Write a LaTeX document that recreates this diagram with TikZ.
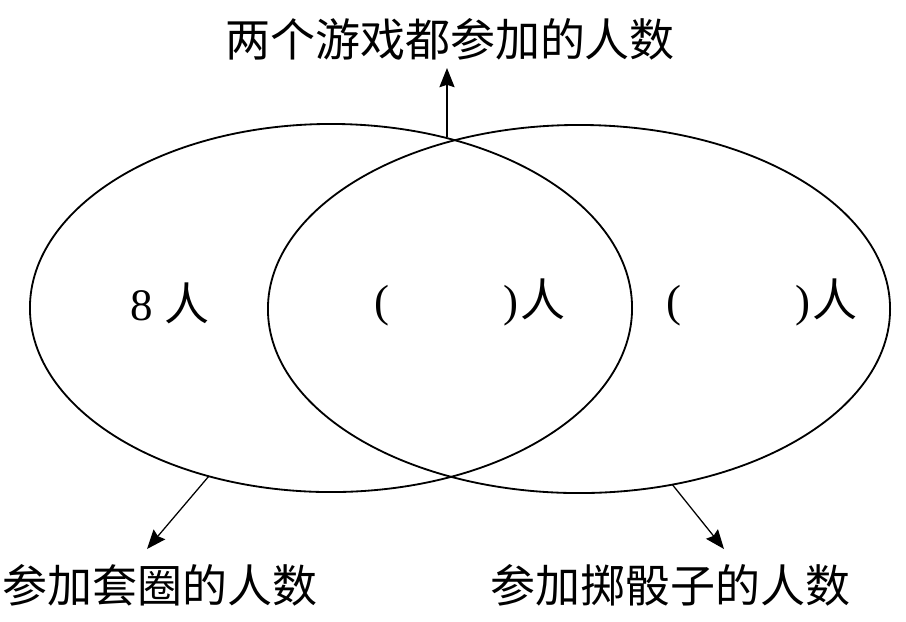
\documentclass[tikz,border=0pt]{standalone}
\usepackage{fontspec}
\setmainfont{Liberation Serif}
\newfontfamily\cjk{Noto Sans CJK SC}
\usetikzlibrary{shapes.geometric,arrows.meta}
\begin{document}
\begin{tikzpicture}[x=0.025cm,y=-0.025cm,
  setshape/.style={draw, ellipse, line width=1.3pt, inner sep=0pt, outer sep=0pt},
  lbl/.style={inner sep=0pt, font=\fontsize{32}{32}\selectfont\cjk},
  num/.style={inner sep=0pt, font=\fontsize{32}{32}\selectfont},
  arr/.style={-{Stealth[length=4.8mm,width=3.8mm,inset=0.6mm]}, line width=0.9pt}]
\useasboundingbox[fill=white] (0,0) rectangle (906,621);
\node[setshape, minimum width=15.05cm, minimum height=9.2cm] (A) at (331,308) {};
\node[setshape, minimum width=15.55cm, minimum height=9.2cm] (B) at (579,309) {};
\node[lbl] (top) at (450,39) {两个游戏都参加的人数};
\node[lbl] (left) at (160,585) {参加套圈的人数};
\node[lbl] (right) at (670,585) {参加掷骰子的人数};
\node[num] (n1) at (170,303) {8\hspace{0.25em}{\cjk 人}};
\node[num] (n2) at (470,302) {(\hspace{2.55em})\hspace{0.05em}{\cjk 人}};
\node[num] (n3) at (762,302) {(\hspace{2.55em})\hspace{0.05em}{\cjk 人}};
\coordinate (upstart) at (447,137);
\coordinate (uptip) at (447,68);
\coordinate (ltip) at (147,549);
\coordinate (rtip) at (724,549);
\draw[arr] (upstart) -- (uptip);
\draw[arr] (A.234.7) -- (ltip);
\draw[arr] (B.298) -- (rtip);
\end{tikzpicture}
\end{document}
